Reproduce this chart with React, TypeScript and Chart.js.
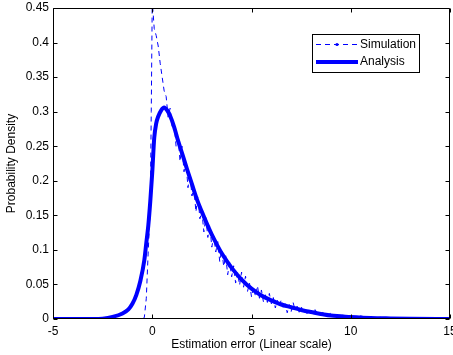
import React, { useEffect, useRef } from 'react';
import { Chart, registerables } from 'chart.js';

Chart.register(...registerables);

const seriesLabels = ['Simulation', 'Analysis'];
const xTitle = 'Estimation error (Linear scale)';
const yTitle = 'Probability Density';
const xTicks = [-5, 0, 5, 10, 15];
const yTicks = [0, 0.05, 0.1, 0.15, 0.2, 0.25, 0.3, 0.35, 0.4, 0.45];

const analysisX = [-5, -3, -2.5, -2, -1.5, -1.2, -1.0, -0.8, -0.6, -0.4, -0.3, -0.2, -0.1, 0.0, 0.1, 0.2, 0.3, 0.45, 0.6, 0.75, 0.9, 1.1, 1.3, 1.5, 1.75, 2.0, 2.25, 2.5, 2.75, 3.0, 3.25, 3.5, 3.75, 4.0, 4.5, 5.0, 5.5, 6.0, 6.5, 7.0, 7.5, 8.0, 9.0, 10.0, 11.0, 12.0, 13.0, 15.0];
const analysisY = [0, 0, 0.0005, 0.003, 0.008, 0.014, 0.022, 0.035, 0.055, 0.085, 0.11, 0.135, 0.17, 0.212, 0.262, 0.283, 0.293, 0.302, 0.306, 0.302, 0.294, 0.278, 0.258, 0.24, 0.217, 0.195, 0.173, 0.155, 0.138, 0.122, 0.108, 0.095, 0.084, 0.074, 0.057, 0.044, 0.034, 0.027, 0.021, 0.017, 0.013, 0.01, 0.005, 0.003, 0.0015, 0.0008, 0.0003, 0];

const simX = [-5, -0.5, -0.4, -0.3, -0.2, -0.1, -0.05, 0.0, 0.1, 0.2, 0.3, 0.4, 0.5, 0.6, 0.7, 0.8, 0.9, 1.0,
  1.1, 1.2, 1.3, 1.4, 1.5, 1.6, 1.7, 1.8, 1.9, 2.0, 2.1, 2.2, 2.3, 2.4, 2.5, 2.6, 2.7, 2.8, 2.9, 3.0,
  3.1, 3.2, 3.3, 3.4, 3.5, 3.6, 3.7, 3.8, 3.9, 4.0, 4.1, 4.2, 4.3, 4.4, 4.5, 4.6, 4.7, 4.8, 4.9, 5.0,
  5.1, 5.2, 5.3, 5.4, 5.5, 5.6, 5.7, 5.8, 5.9, 6.0, 6.1, 6.2, 6.3, 6.4, 6.5, 6.6, 6.7, 6.8, 6.9, 7.0,
  7.1, 7.2, 7.3, 7.4, 7.5, 7.6, 7.7, 7.8, 7.9, 8.0, 8.2, 8.4, 8.6, 8.8, 9.0, 9.3, 9.6, 10.0, 10.5,
  11.0, 11.5, 12.0, 13.0, 14.0, 15.0];
const simY = [0, 0, 0.002, 0.03, 0.1, 0.16, 0.3, 0.46, 0.42, 0.41, 0.395, 0.37, 0.35, 0.33, 0.322, 0.292, 0.305, 0.279,
  0.284, 0.25, 0.266, 0.228, 0.25, 0.213, 0.227, 0.19, 0.21, 0.178, 0.19, 0.155, 0.178, 0.145, 0.156, 0.126, 0.147, 0.118, 0.136, 0.104,
  0.12, 0.097, 0.112, 0.083, 0.1, 0.076, 0.092, 0.064, 0.082, 0.061, 0.077, 0.052, 0.067, 0.049, 0.068, 0.046, 0.062, 0.04, 0.052, 0.032,
  0.046, 0.033, 0.048, 0.03, 0.042, 0.025, 0.035, 0.024, 0.037, 0.022, 0.031, 0.016, 0.027, 0.018, 0.028, 0.015, 0.022, 0.009, 0.021, 0.011,
  0.0235, 0.0125, 0.0185, 0.0098, 0.019, 0.0095, 0.0135, 0.0075, 0.0132, 0.0072, 0.0135, 0.0055, 0.0095, 0.0045, 0.0085, 0.003, 0.0055, 0.0018, 0.0045,
  0.001, 0.0024, 0.0005, 0.0012, 0, 0];

const FONT = '"Liberation Sans", Arial, Helvetica, sans-serif';
const BLUE = '#0000ff';

const framePlugin = {
  id: 'matlabFrame',
  afterDraw(chart: any) {
    const { ctx, chartArea: a, scales } = chart;
    const xs = scales.x;
    const ys = scales.y;
    ctx.save();
    ctx.strokeStyle = '#000';
    ctx.lineWidth = 1;
    ctx.setLineDash([]);
    const L = Math.round(a.left) + 0.5;
    const R = Math.round(a.right) - 0.5;
    const T = Math.round(a.top) + 0.5;
    const B = Math.round(a.bottom) - 0.5;
    ctx.beginPath();
    ctx.rect(L, T, R - L, B - T);
    ctx.stroke();
    const tl = 4;
    ctx.beginPath();
    xTicks.forEach((v) => {
      const px = Math.round(xs.getPixelForValue(v)) + 0.5;
      ctx.moveTo(px, B); ctx.lineTo(px, B - tl);
      ctx.moveTo(px, T); ctx.lineTo(px, T + tl);
    });
    yTicks.forEach((v) => {
      const py = Math.round(ys.getPixelForValue(v)) + 0.5;
      ctx.moveTo(L, py); ctx.lineTo(L + tl, py);
      ctx.moveTo(R, py); ctx.lineTo(R - tl, py);
    });
    ctx.stroke();

    // legend
    const bx = 312.5, by = 34.5, bw = 107, bh = 38;
    ctx.fillStyle = '#fff';
    ctx.fillRect(bx, by, bw, bh);
    ctx.strokeStyle = '#000';
    ctx.strokeRect(bx, by, bw, bh);
    const row1 = 44, row2 = 62;
    const lx0 = 316, lx1 = 358;
    ctx.strokeStyle = BLUE;
    ctx.lineWidth = 1;
    ctx.setLineDash([5, 4]);
    ctx.beginPath();
    ctx.moveTo(lx0, row1 + 0.5); ctx.lineTo(lx1, row1 + 0.5);
    ctx.stroke();
    ctx.setLineDash([]);
    ctx.fillStyle = BLUE;
    ctx.beginPath();
    ctx.arc((lx0 + lx1) / 2, row1 + 0.5, 1.6, 0, Math.PI * 2);
    ctx.fill();
    ctx.lineWidth = 4;
    ctx.beginPath();
    ctx.moveTo(lx0, row2); ctx.lineTo(lx1, row2);
    ctx.stroke();
    ctx.fillStyle = '#000';
    ctx.font = '12px ' + FONT;
    ctx.textBaseline = 'middle';
    ctx.textAlign = 'left';
    ctx.fillText(seriesLabels[0], 360, row1 + 0.5);
    ctx.fillText(seriesLabels[1], 360, row2);
    ctx.restore();
  },
};

export default function App() {
  const ref = useRef<HTMLCanvasElement | null>(null);
  useEffect(() => {
    if (!ref.current) return;
    const simData = simX.map((x, i) => ({ x, y: simY[i] }));
    const anaData = analysisX.map((x, i) => ({ x, y: analysisY[i] }));
    const chart = new Chart(ref.current, {
      type: 'line',
      data: {
        datasets: [
          {
            label: seriesLabels[0],
            data: simData,
            borderColor: BLUE,
            borderWidth: 1,
            borderDash: [5, 4],
            pointRadius: 0,
            tension: 0,
            fill: false,
          },
          {
            label: seriesLabels[1],
            data: anaData,
            borderColor: BLUE,
            borderWidth: 4,
            pointRadius: 0,
            cubicInterpolationMode: 'monotone',
            fill: false,
          },
        ],
      },
      options: {
        responsive: false,
        animation: false,
        events: [],
        layout: { padding: { top: 8, right: 3, left: 0, bottom: 0 } },
        plugins: { legend: { display: false }, tooltip: { enabled: false } },
        scales: {
          x: {
            type: 'linear',
            min: -5,
            max: 15,
            grid: { display: false, drawTicks: false },
            border: { display: false },
            afterBuildTicks: (s: any) => { s.ticks = xTicks.map((v) => ({ value: v })); },
            afterFit: (s: any) => { s.height = 36; s.paddingLeft = 0; s.paddingRight = 0; },
            ticks: { color: '#000', font: { family: FONT, size: 12 }, padding: 5, maxRotation: 0, autoSkip: false, callback: (v: any) => String(v) },
            title: { display: true, text: xTitle, color: '#000', font: { family: FONT, size: 12 }, padding: { top: 0, bottom: 3 } },
          },
          y: {
            type: 'linear',
            min: 0,
            max: 0.45,
            grid: { display: false, drawTicks: false },
            border: { display: false },
            afterBuildTicks: (s: any) => { s.ticks = yTicks.map((v) => ({ value: v })); },
            afterFit: (s: any) => { s.width = 53; s.paddingTop = 0; s.paddingBottom = 0; },
            ticks: { color: '#000', font: { family: FONT, size: 12 }, padding: 4, autoSkip: false, callback: (v: any) => String(Math.round(v * 100) / 100) },
            title: { display: true, text: yTitle, color: '#000', font: { family: FONT, size: 12 }, padding: { top: 4, bottom: 0 } },
          },
        },
      },
      plugins: [framePlugin],
    });
    return () => chart.destroy();
  }, []);
  return (
    <div style={{ position: 'absolute', left: 0, top: 0, width: 453, height: 355, background: '#fff' }}>
      <canvas ref={ref} width={453} height={355} style={{ display: 'block' }} />
    </div>
  );
}
